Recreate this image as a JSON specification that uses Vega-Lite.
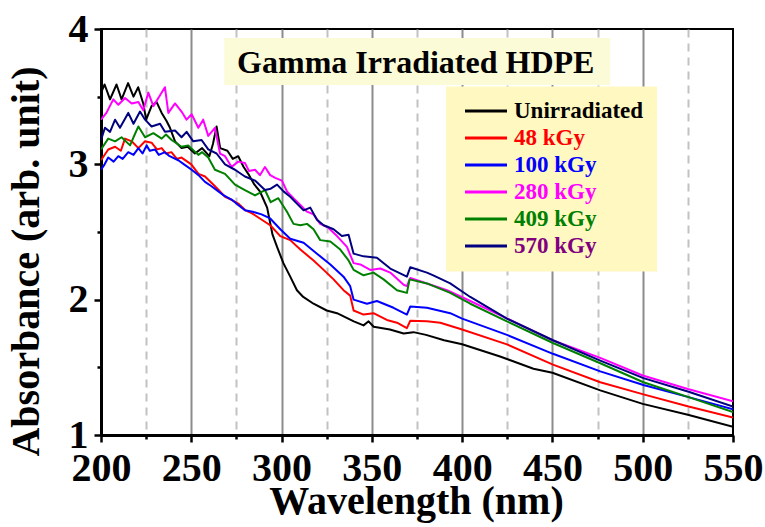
{
  "$schema": "https://vega.github.io/schema/vega-lite/v6.json",
  "width": 632,
  "height": 406,
  "autosize": {"type": "none"},
  "padding": {"left": 101, "top": 29, "right": 32, "bottom": 92},
  "background": "white",
  "config": {"view": {"stroke": "black", "strokeWidth": 2}, "font": "'Liberation Serif', 'DejaVu Serif', serif"},
  "datasets": {
    "spectra": [
      {"s":"Unirradiated","wl":200,"a":3.53},{"s":"Unirradiated","wl":202,"a":3.59},{"s":"Unirradiated","wl":205,"a":3.48},{"s":"Unirradiated","wl":208.6,"a":3.59},{"s":"Unirradiated","wl":211.4,"a":3.48},{"s":"Unirradiated","wl":215,"a":3.6},{"s":"Unirradiated","wl":218,"a":3.5},{"s":"Unirradiated","wl":220.6,"a":3.57},{"s":"Unirradiated","wl":223.4,"a":3.45},{"s":"Unirradiated","wl":225,"a":3.33},{"s":"Unirradiated","wl":228,"a":3.43},{"s":"Unirradiated","wl":230.8,"a":3.46},{"s":"Unirradiated","wl":233.6,"a":3.38},{"s":"Unirradiated","wl":236.3,"a":3.32},{"s":"Unirradiated","wl":238.2,"a":3.27},{"s":"Unirradiated","wl":241,"a":3.17},{"s":"Unirradiated","wl":244.6,"a":3.12},{"s":"Unirradiated","wl":248,"a":3.13},{"s":"Unirradiated","wl":252,"a":3.08},{"s":"Unirradiated","wl":256,"a":3.12},{"s":"Unirradiated","wl":260,"a":3.06},{"s":"Unirradiated","wl":262,"a":3.15},{"s":"Unirradiated","wl":264,"a":3.28},{"s":"Unirradiated","wl":266,"a":3.12},{"s":"Unirradiated","wl":270,"a":3.1},{"s":"Unirradiated","wl":273,"a":3.04},{"s":"Unirradiated","wl":276,"a":3.06},{"s":"Unirradiated","wl":279,"a":2.98},{"s":"Unirradiated","wl":282,"a":2.92},{"s":"Unirradiated","wl":285,"a":2.85},{"s":"Unirradiated","wl":288,"a":2.8},{"s":"Unirradiated","wl":290,"a":2.74},{"s":"Unirradiated","wl":292,"a":2.68},{"s":"Unirradiated","wl":295,"a":2.48},{"s":"Unirradiated","wl":297.5,"a":2.39},{"s":"Unirradiated","wl":301,"a":2.27},{"s":"Unirradiated","wl":304.8,"a":2.17},{"s":"Unirradiated","wl":308.5,"a":2.07},{"s":"Unirradiated","wl":312,"a":2.02},{"s":"Unirradiated","wl":317.7,"a":1.97},{"s":"Unirradiated","wl":325,"a":1.92},{"s":"Unirradiated","wl":330.7,"a":1.9},{"s":"Unirradiated","wl":340,"a":1.84},{"s":"Unirradiated","wl":345.4,"a":1.81},{"s":"Unirradiated","wl":348.2,"a":1.84},{"s":"Unirradiated","wl":351,"a":1.8},{"s":"Unirradiated","wl":360,"a":1.78},{"s":"Unirradiated","wl":367.6,"a":1.75},{"s":"Unirradiated","wl":373,"a":1.76},{"s":"Unirradiated","wl":380,"a":1.74},{"s":"Unirradiated","wl":390,"a":1.7},{"s":"Unirradiated","wl":400,"a":1.67},{"s":"Unirradiated","wl":421,"a":1.58},{"s":"Unirradiated","wl":439.5,"a":1.49},{"s":"Unirradiated","wl":450,"a":1.46},{"s":"Unirradiated","wl":476.5,"a":1.33},{"s":"Unirradiated","wl":500,"a":1.23},{"s":"Unirradiated","wl":525,"a":1.15},{"s":"Unirradiated","wl":550,"a":1.06},

      {"s":"48 kGy","wl":200,"a":3.03},{"s":"48 kGy","wl":204,"a":3.11},{"s":"48 kGy","wl":207.8,"a":3.13},{"s":"48 kGy","wl":211,"a":3.1},{"s":"48 kGy","wl":213.3,"a":3.19},{"s":"48 kGy","wl":217,"a":3.17},{"s":"48 kGy","wl":220.7,"a":3.12},{"s":"48 kGy","wl":224.4,"a":3.17},{"s":"48 kGy","wl":228,"a":3.16},{"s":"48 kGy","wl":231,"a":3.11},{"s":"48 kGy","wl":233.6,"a":3.12},{"s":"48 kGy","wl":236,"a":3.08},{"s":"48 kGy","wl":239,"a":3.09},{"s":"48 kGy","wl":242,"a":3.04},{"s":"48 kGy","wl":244.6,"a":3.05},{"s":"48 kGy","wl":250,"a":3.0},{"s":"48 kGy","wl":254,"a":2.93},{"s":"48 kGy","wl":257.6,"a":2.91},{"s":"48 kGy","wl":263,"a":2.84},{"s":"48 kGy","wl":268.7,"a":2.76},{"s":"48 kGy","wl":272,"a":2.74},{"s":"48 kGy","wl":276,"a":2.71},{"s":"48 kGy","wl":280,"a":2.66},{"s":"48 kGy","wl":283.4,"a":2.64},{"s":"48 kGy","wl":288,"a":2.6},{"s":"48 kGy","wl":293.7,"a":2.55},{"s":"48 kGy","wl":299.3,"a":2.47},{"s":"48 kGy","wl":304.8,"a":2.44},{"s":"48 kGy","wl":310.4,"a":2.37},{"s":"48 kGy","wl":317.7,"a":2.29},{"s":"48 kGy","wl":323.3,"a":2.22},{"s":"48 kGy","wl":328.8,"a":2.15},{"s":"48 kGy","wl":334.3,"a":2.07},{"s":"48 kGy","wl":338,"a":2.03},{"s":"48 kGy","wl":339.9,"a":1.92},{"s":"48 kGy","wl":345.4,"a":1.89},{"s":"48 kGy","wl":350.9,"a":1.9},{"s":"48 kGy","wl":358.3,"a":1.85},{"s":"48 kGy","wl":363.9,"a":1.83},{"s":"48 kGy","wl":369.4,"a":1.79},{"s":"48 kGy","wl":371.3,"a":1.845},{"s":"48 kGy","wl":380.5,"a":1.84},{"s":"48 kGy","wl":387.9,"a":1.83},{"s":"48 kGy","wl":400,"a":1.78},{"s":"48 kGy","wl":424.8,"a":1.67},{"s":"48 kGy","wl":450.3,"a":1.52},{"s":"48 kGy","wl":476.5,"a":1.39},{"s":"48 kGy","wl":500.4,"a":1.3},{"s":"48 kGy","wl":525.4,"a":1.21},{"s":"48 kGy","wl":550,"a":1.13},

      {"s":"100 kGy","wl":200,"a":2.96},{"s":"100 kGy","wl":202,"a":3.0},{"s":"100 kGy","wl":204,"a":3.05},{"s":"100 kGy","wl":207,"a":3.02},{"s":"100 kGy","wl":209.6,"a":3.06},{"s":"100 kGy","wl":212,"a":3.04},{"s":"100 kGy","wl":215.1,"a":3.09},{"s":"100 kGy","wl":218,"a":3.07},{"s":"100 kGy","wl":220.7,"a":3.12},{"s":"100 kGy","wl":223,"a":3.08},{"s":"100 kGy","wl":225.3,"a":3.14},{"s":"100 kGy","wl":227,"a":3.1},{"s":"100 kGy","wl":229.9,"a":3.11},{"s":"100 kGy","wl":232,"a":3.07},{"s":"100 kGy","wl":235.4,"a":3.09},{"s":"100 kGy","wl":238,"a":3.06},{"s":"100 kGy","wl":242.8,"a":3.03},{"s":"100 kGy","wl":246,"a":3.0},{"s":"100 kGy","wl":250.2,"a":2.96},{"s":"100 kGy","wl":254,"a":2.92},{"s":"100 kGy","wl":257.6,"a":2.87},{"s":"100 kGy","wl":261,"a":2.84},{"s":"100 kGy","wl":265,"a":2.8},{"s":"100 kGy","wl":268,"a":2.77},{"s":"100 kGy","wl":272.3,"a":2.74},{"s":"100 kGy","wl":276,"a":2.7},{"s":"100 kGy","wl":279.7,"a":2.66},{"s":"100 kGy","wl":284,"a":2.65},{"s":"100 kGy","wl":288.9,"a":2.63},{"s":"100 kGy","wl":293.7,"a":2.6},{"s":"100 kGy","wl":299.3,"a":2.52},{"s":"100 kGy","wl":304.8,"a":2.45},{"s":"100 kGy","wl":312.2,"a":2.42},{"s":"100 kGy","wl":319.6,"a":2.34},{"s":"100 kGy","wl":327,"a":2.26},{"s":"100 kGy","wl":334.3,"a":2.17},{"s":"100 kGy","wl":338,"a":2.1},{"s":"100 kGy","wl":339.9,"a":2.0},{"s":"100 kGy","wl":347.3,"a":1.97},{"s":"100 kGy","wl":352.8,"a":1.99},{"s":"100 kGy","wl":362,"a":1.94},{"s":"100 kGy","wl":369.4,"a":1.89},{"s":"100 kGy","wl":371.3,"a":1.95},{"s":"100 kGy","wl":380.5,"a":1.94},{"s":"100 kGy","wl":393.4,"a":1.9},{"s":"100 kGy","wl":400,"a":1.86},{"s":"100 kGy","wl":424.8,"a":1.74},{"s":"100 kGy","wl":450.3,"a":1.6},{"s":"100 kGy","wl":476.5,"a":1.47},{"s":"100 kGy","wl":500.4,"a":1.37},{"s":"100 kGy","wl":525.4,"a":1.28},{"s":"100 kGy","wl":550,"a":1.19},

      {"s":"280 kGy","wl":200,"a":3.33},{"s":"280 kGy","wl":203,"a":3.38},{"s":"280 kGy","wl":206.8,"a":3.48},{"s":"280 kGy","wl":209.6,"a":3.44},{"s":"280 kGy","wl":213.3,"a":3.49},{"s":"280 kGy","wl":217,"a":3.45},{"s":"280 kGy","wl":220.7,"a":3.46},{"s":"280 kGy","wl":223.4,"a":3.4},{"s":"280 kGy","wl":226.2,"a":3.53},{"s":"280 kGy","wl":229,"a":3.43},{"s":"280 kGy","wl":232.7,"a":3.51},{"s":"280 kGy","wl":235.4,"a":3.57},{"s":"280 kGy","wl":237.3,"a":3.38},{"s":"280 kGy","wl":241,"a":3.45},{"s":"280 kGy","wl":244.6,"a":3.39},{"s":"280 kGy","wl":247.4,"a":3.33},{"s":"280 kGy","wl":250.2,"a":3.37},{"s":"280 kGy","wl":253.9,"a":3.27},{"s":"280 kGy","wl":256.6,"a":3.33},{"s":"280 kGy","wl":259.4,"a":3.21},{"s":"280 kGy","wl":263.1,"a":3.27},{"s":"280 kGy","wl":265.9,"a":3.08},{"s":"280 kGy","wl":268.7,"a":3.06},{"s":"280 kGy","wl":272.3,"a":2.98},{"s":"280 kGy","wl":276,"a":3.02},{"s":"280 kGy","wl":279.7,"a":3.01},{"s":"280 kGy","wl":282,"a":2.95},{"s":"280 kGy","wl":285.3,"a":2.96},{"s":"280 kGy","wl":288,"a":2.92},{"s":"280 kGy","wl":290.8,"a":2.98},{"s":"280 kGy","wl":293.7,"a":2.92},{"s":"280 kGy","wl":296.5,"a":2.9},{"s":"280 kGy","wl":300.2,"a":2.88},{"s":"280 kGy","wl":303,"a":2.8},{"s":"280 kGy","wl":306.6,"a":2.75},{"s":"280 kGy","wl":310.4,"a":2.7},{"s":"280 kGy","wl":314.1,"a":2.65},{"s":"280 kGy","wl":317.7,"a":2.63},{"s":"280 kGy","wl":321.4,"a":2.56},{"s":"280 kGy","wl":326,"a":2.53},{"s":"280 kGy","wl":330.7,"a":2.47},{"s":"280 kGy","wl":336.2,"a":2.39},{"s":"280 kGy","wl":339.9,"a":2.27},{"s":"280 kGy","wl":343.6,"a":2.26},{"s":"280 kGy","wl":349.1,"a":2.22},{"s":"280 kGy","wl":354.7,"a":2.23},{"s":"280 kGy","wl":360.2,"a":2.2},{"s":"280 kGy","wl":367.6,"a":2.11},{"s":"280 kGy","wl":369.4,"a":2.1},{"s":"280 kGy","wl":371.3,"a":2.16},{"s":"280 kGy","wl":380.5,"a":2.12},{"s":"280 kGy","wl":391.6,"a":2.07},{"s":"280 kGy","wl":404.5,"a":1.99},{"s":"280 kGy","wl":425,"a":1.86},{"s":"280 kGy","wl":450,"a":1.7},{"s":"280 kGy","wl":476.5,"a":1.57},{"s":"280 kGy","wl":500,"a":1.44},{"s":"280 kGy","wl":525,"a":1.34},{"s":"280 kGy","wl":550,"a":1.25},

      {"s":"409 kGy","wl":200,"a":3.11},{"s":"409 kGy","wl":204,"a":3.19},{"s":"409 kGy","wl":207.8,"a":3.17},{"s":"409 kGy","wl":211.4,"a":3.2},{"s":"409 kGy","wl":216.1,"a":3.14},{"s":"409 kGy","wl":218,"a":3.2},{"s":"409 kGy","wl":220.7,"a":3.28},{"s":"409 kGy","wl":224.4,"a":3.2},{"s":"409 kGy","wl":229,"a":3.23},{"s":"409 kGy","wl":233.6,"a":3.19},{"s":"409 kGy","wl":236,"a":3.22},{"s":"409 kGy","wl":239.1,"a":3.18},{"s":"409 kGy","wl":244.6,"a":3.13},{"s":"409 kGy","wl":248.3,"a":3.14},{"s":"409 kGy","wl":253.9,"a":3.07},{"s":"409 kGy","wl":256,"a":3.09},{"s":"409 kGy","wl":259.4,"a":3.05},{"s":"409 kGy","wl":263.1,"a":2.96},{"s":"409 kGy","wl":268.7,"a":2.93},{"s":"409 kGy","wl":274.2,"a":2.85},{"s":"409 kGy","wl":279.7,"a":2.81},{"s":"409 kGy","wl":285.3,"a":2.77},{"s":"409 kGy","wl":290.8,"a":2.81},{"s":"409 kGy","wl":294,"a":2.72},{"s":"409 kGy","wl":298.2,"a":2.75},{"s":"409 kGy","wl":303,"a":2.65},{"s":"409 kGy","wl":306.6,"a":2.56},{"s":"409 kGy","wl":310.4,"a":2.55},{"s":"409 kGy","wl":314.1,"a":2.56},{"s":"409 kGy","wl":317.7,"a":2.52},{"s":"409 kGy","wl":321.4,"a":2.44},{"s":"409 kGy","wl":327,"a":2.43},{"s":"409 kGy","wl":332.5,"a":2.37},{"s":"409 kGy","wl":337.1,"a":2.29},{"s":"409 kGy","wl":339.9,"a":2.22},{"s":"409 kGy","wl":345.4,"a":2.18},{"s":"409 kGy","wl":350.9,"a":2.2},{"s":"409 kGy","wl":356.5,"a":2.15},{"s":"409 kGy","wl":363.9,"a":2.07},{"s":"409 kGy","wl":369.4,"a":2.05},{"s":"409 kGy","wl":370.9,"a":2.15},{"s":"409 kGy","wl":380.5,"a":2.12},{"s":"409 kGy","wl":393.4,"a":2.05},{"s":"409 kGy","wl":404.5,"a":1.97},{"s":"409 kGy","wl":424.8,"a":1.84},{"s":"409 kGy","wl":450.3,"a":1.68},{"s":"409 kGy","wl":476.5,"a":1.53},{"s":"409 kGy","wl":500.4,"a":1.39},{"s":"409 kGy","wl":525.4,"a":1.28},{"s":"409 kGy","wl":550,"a":1.17},

      {"s":"570 kGy","wl":200,"a":3.18},{"s":"570 kGy","wl":202.2,"a":3.27},{"s":"570 kGy","wl":205,"a":3.24},{"s":"570 kGy","wl":207.8,"a":3.33},{"s":"570 kGy","wl":210.5,"a":3.27},{"s":"570 kGy","wl":215.1,"a":3.38},{"s":"570 kGy","wl":218,"a":3.3},{"s":"570 kGy","wl":221.6,"a":3.39},{"s":"570 kGy","wl":224.4,"a":3.33},{"s":"570 kGy","wl":228,"a":3.28},{"s":"570 kGy","wl":232.7,"a":3.3},{"s":"570 kGy","wl":235.4,"a":3.24},{"s":"570 kGy","wl":241,"a":3.25},{"s":"570 kGy","wl":244.6,"a":3.2},{"s":"570 kGy","wl":247.4,"a":3.24},{"s":"570 kGy","wl":251.1,"a":3.17},{"s":"570 kGy","wl":255.7,"a":3.18},{"s":"570 kGy","wl":259.4,"a":3.11},{"s":"570 kGy","wl":264,"a":3.08},{"s":"570 kGy","wl":268.7,"a":3.0},{"s":"570 kGy","wl":274.2,"a":2.96},{"s":"570 kGy","wl":279.7,"a":2.91},{"s":"570 kGy","wl":285.3,"a":2.88},{"s":"570 kGy","wl":290.8,"a":2.81},{"s":"570 kGy","wl":294,"a":2.82},{"s":"570 kGy","wl":297.5,"a":2.85},{"s":"570 kGy","wl":301.1,"a":2.8},{"s":"570 kGy","wl":304.8,"a":2.76},{"s":"570 kGy","wl":308.5,"a":2.71},{"s":"570 kGy","wl":312.2,"a":2.66},{"s":"570 kGy","wl":315.9,"a":2.68},{"s":"570 kGy","wl":319.6,"a":2.59},{"s":"570 kGy","wl":323.3,"a":2.55},{"s":"570 kGy","wl":328.8,"a":2.52},{"s":"570 kGy","wl":333.4,"a":2.47},{"s":"570 kGy","wl":337.1,"a":2.48},{"s":"570 kGy","wl":339.9,"a":2.34},{"s":"570 kGy","wl":345.4,"a":2.32},{"s":"570 kGy","wl":352.8,"a":2.31},{"s":"570 kGy","wl":360.2,"a":2.23},{"s":"570 kGy","wl":369.4,"a":2.17},{"s":"570 kGy","wl":371.3,"a":2.24},{"s":"570 kGy","wl":380.5,"a":2.2},{"s":"570 kGy","wl":384,"a":2.18},{"s":"570 kGy","wl":393.4,"a":2.12},{"s":"570 kGy","wl":400,"a":2.06},{"s":"570 kGy","wl":404.5,"a":2.02},{"s":"570 kGy","wl":424.8,"a":1.86},{"s":"570 kGy","wl":450.3,"a":1.7},{"s":"570 kGy","wl":476.5,"a":1.55},{"s":"570 kGy","wl":500.4,"a":1.42},{"s":"570 kGy","wl":525.4,"a":1.32},{"s":"570 kGy","wl":550,"a":1.21}
    ]
  },
  "layer": [
    {
      "data": {"values": [{"note": "title box"}]},
      "mark": {"type": "rect", "fill": "#fbfbd8"},
      "encoding": {
        "x": {"datum": 268.3, "type": "quantitative"},
        "x2": {"datum": 482},
        "y": {"datum": 3.934, "type": "quantitative"},
        "y2": {"datum": 3.587}
      }
    },
    {
      "data": {"values": [{"label": "Gamma Irradiated HDPE"}]},
      "mark": {"type": "text", "font": "'Liberation Serif', 'DejaVu Serif', serif", "fontWeight": "bold", "fontSize": 32, "align": "center", "baseline": "alphabetic", "color": "black"},
      "encoding": {
        "x": {"datum": 374.3, "type": "quantitative"},
        "y": {"datum": 3.676, "type": "quantitative"},
        "text": {"field": "label", "type": "nominal"}
      }
    },
    {
      "data": {"name": "spectra"},
      "mark": {"type": "line", "strokeWidth": 2, "strokeJoin": "round", "clip": true},
      "encoding": {
        "x": {
          "field": "wl", "type": "quantitative",
          "scale": {"domain": [200, 550], "nice": false, "zero": false},
          "axis": {
            "values": [200, 225, 250, 275, 300, 325, 350, 375, 400, 425, 450, 475, 500, 525, 550],
            "format": "d",
            "labelExpr": "datum.value % 50 === 0 ? datum.label : ''",
            "labelOverlap": false,
            "labelFlush": false,
            "labelFont": "'Liberation Serif', 'DejaVu Serif', serif", "labelFontWeight": "bold", "labelFontSize": 40, "labelColor": "black",
            "labelPadding": 6,
            "grid": true,
            "gridWidth": 2,
            "gridColor": {"condition": {"test": "datum.value % 50 === 0", "value": "#8c8c8c"}, "value": "#c2c2c2"},
            "gridDash": {"condition": {"test": "datum.value % 50 === 0", "value": []}, "value": [8, 6]},
            "gridOpacity": {"condition": {"test": "datum.value === 200 || datum.value === 550", "value": 0}, "value": 1},
            "tickSize": {"condition": {"test": "datum.value % 50 === 0", "value": 7}, "value": 4},
            "tickWidth": 2.5, "tickColor": "black",
            "domainColor": "black", "domainWidth": 3,
            "title": "Wavelength (nm)",
            "titleFont": "'Liberation Serif', 'DejaVu Serif', serif", "titleFontWeight": "bold", "titleFontSize": 40, "titleColor": "black",
            "titleX": 315, "titleY": 78, "titleAlign": "center", "titleBaseline": "alphabetic"
          }
        },
        "y": {
          "field": "a", "type": "quantitative",
          "scale": {"domain": [1, 4], "nice": false, "zero": false},
          "axis": {
            "values": [1, 1.5, 2, 2.5, 3, 3.5, 4],
            "labelExpr": "datum.value % 1 === 0 ? format(datum.value, 'd') : ''",
            "labelOverlap": false,
            "labelFlush": false,
            "labelFont": "'Liberation Serif', 'DejaVu Serif', serif", "labelFontWeight": "bold", "labelFontSize": 40, "labelColor": "black",
            "labelPadding": 6,
            "grid": false,
            "tickSize": {"condition": {"test": "datum.value % 1 === 0", "value": 7}, "value": 4},
            "tickWidth": 2.5, "tickColor": "black",
            "domainColor": "black", "domainWidth": 3,
            "title": "Absorbance (arb. unit)",
            "titleFont": "'Liberation Serif', 'DejaVu Serif', serif", "titleFontWeight": "bold", "titleFontSize": 40, "titleColor": "black",
            "titleX": -63, "titleY": 232, "titleAlign": "center", "titleBaseline": "alphabetic", "titleAngle": -90
          }
        },
        "color": {
          "field": "s", "type": "nominal",
          "scale": {
            "domain": ["Unirradiated", "48 kGy", "100 kGy", "280 kGy", "409 kGy", "570 kGy"],
            "range": ["#000000", "#ff0000", "#0000ff", "#ff00ff", "#008000", "#000080"]
          },
          "legend": {
            "title": null,
            "orient": "none",
            "legendX": 345,
            "legendY": 57.5,
            "padding": 13,
            "fillColor": "#fff8c0",
            "strokeColor": null,
            "symbolType": "M-3,0H3",
            "symbolSize": 196,
            "symbolStrokeWidth": 3,
            "symbolOffset": 15.5,
            "labelOffset": 16.5,
            "rowPadding": 3,
            "labelFont": "'Liberation Serif', 'DejaVu Serif', serif", "labelFontWeight": "bold", "labelFontSize": 23,
            "labelLimit": 300,
            "encode": {
              "labels": {
                "update": {
                  "fill": {"signal": "({'Unirradiated':'#000000','48 kGy':'#ff0000','100 kGy':'#0000ff','280 kGy':'#ff00ff','409 kGy':'#008000','570 kGy':'#800080'})[datum.label]"}
                }
              }
            }
          }
        }
      }
    }
  ]
}
